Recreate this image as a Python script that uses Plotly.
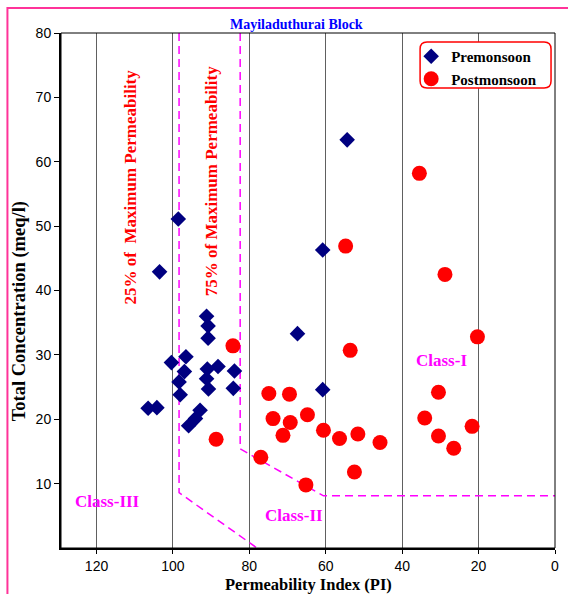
import plotly.graph_objects as go

# ---------------- data ----------------
pre_pi = [54.4, 98.6, 103.5, 60.8, 91.2, 90.8, 90.8, 67.4, 100.4, 96.6, 97.0, 91.0,
          88.2, 83.9, 98.4, 91.2, 98.1, 90.7, 84.2, 60.8, 106.5, 104.2, 92.9, 94.1, 95.9]
pre_tc = [63.4, 51.1, 42.9, 46.3, 36.0, 34.5, 32.6, 33.3, 28.8, 29.7, 27.4, 27.8,
          28.2, 27.5, 25.8, 26.3, 23.8, 24.7, 24.8, 24.6, 21.7, 21.8, 21.4, 20.1, 19.0]

post_pi = [35.5, 54.8, 28.8, 20.3, 53.6, 84.3, 30.5, 74.9, 69.5, 64.8, 73.8, 69.3, 34.1,
           21.7, 71.2, 60.6, 56.4, 51.6, 45.8, 30.5, 26.5, 88.7, 77.0, 52.5, 65.2]
post_tc = [58.2, 46.9, 42.5, 32.8, 30.7, 31.4, 24.2, 24.0, 23.9, 20.7, 20.1, 19.5, 20.2,
           18.9, 17.5, 18.3, 17.0, 17.7, 16.4, 17.4, 15.5, 16.9, 14.1, 11.8, 9.8]

# class boundary lines (Doneen diagram)
bound25_pi = [98.4, 98.4, 78.0]
bound25_tc = [80, 8.6, 0]
bound75_pi = [82.4, 82.4, 60.6, 0]
bound75_tc = [80, 15.4, 8.1, 8.1]

x_ticks = [0, 20, 40, 60, 80, 100, 120]
y_ticks = [10, 20, 30, 40, 50, 60, 70, 80]

SERIF = "Liberation Serif, Times New Roman, serif"
SANS = "Liberation Sans, Arial, sans-serif"
MAG = "#FF00FF"

fig = go.Figure()
for bx, by in [(bound25_pi, bound25_tc), (bound75_pi, bound75_tc)]:
    fig.add_trace(go.Scatter(x=bx, y=by, mode="lines", showlegend=False, hoverinfo="skip",
                             line=dict(color=MAG, width=1.5, dash="8px,5px")))

fig.add_trace(go.Scatter(x=pre_pi, y=pre_tc, mode="markers", name="<b>Premonsoon</b>",
                         marker=dict(symbol="diamond", size=12, color="#000080")))
fig.add_trace(go.Scatter(x=post_pi, y=post_tc, mode="markers", name="<b>Postmonsoon</b>",
                         marker=dict(symbol="circle", size=15, color="#FF0000")))

L, R, T, B = 61, 9, 33, 46
W, H = 568, 594
pw, ph = W - L - R, H - T - B


def px(xp):
    return (xp - L) / pw


def py(yp):
    return (H - B - yp) / ph


fig.update_layout(
    width=W, height=H,
    margin=dict(l=L, r=R, t=T, b=B),
    plot_bgcolor="white", paper_bgcolor="white",
    legend=dict(x=px(414), y=py(40), xanchor="left", yanchor="top",
                bgcolor="rgba(0,0,0,0)", borderwidth=0,
                font=dict(family=SERIF, size=15, color="black"),
                tracegroupgap=0),
)

fig.update_xaxes(range=[129.3, 0], tickvals=x_ticks, showgrid=True, gridcolor="#606060",
                 gridwidth=1, zeroline=False, showline=True, linecolor="black", linewidth=2,
                 ticks="outside", ticklen=4, tickcolor="black", ticklabelstandoff=0,
                 tickfont=dict(family=SANS, size=14, color="black"))
fig.update_yaxes(range=[0, 80], tickvals=y_ticks, showgrid=False, zeroline=False,
                 showline=True, linecolor="black", linewidth=2,
                 ticks="outside", ticklen=5, tickcolor="black",
                 tickfont=dict(family=SANS, size=14, color="black"))

# plot box top/right
fig.add_shape(type="rect", xref="paper", yref="paper", x0=0, y0=0, x1=1, y1=1,
              line=dict(color="black", width=1), layer="above")
# outer pink frame
fig.add_shape(type="rect", xref="paper", yref="paper", x0=px(7), y0=py(610), x1=px(590),
              y1=py(8), line=dict(color="#FF3399", width=2), layer="above")
# rounded legend box
x0, x1, y0, y1 = px(423), px(555), py(88), py(42)
rx, ry = 7 / pw, 7 / ph
path = (f"M {x0+rx},{y1} L {x1-rx},{y1} Q {x1},{y1} {x1},{y1-ry} L {x1},{y0+ry} "
        f"Q {x1},{y0} {x1-rx},{y0} L {x0+rx},{y0} Q {x0},{y0} {x0},{y0+ry} "
        f"L {x0},{y1-ry} Q {x0},{y1} {x0+rx},{y1} Z")
fig.add_shape(type="path", xref="paper", yref="paper", path=path,
              line=dict(color="#FF0000", width=1.5), fillcolor="white", layer="above")

ann = [
    dict(text="<b>Mayiladuthurai Block</b>", x=px(298), y=py(25), xref="paper", yref="paper",
         font=dict(family=SERIF, size=14, color="#0000FF")),
    dict(text="<b>Permeability Index (PI)</b>", x=px(311), y=py(584), xref="paper", yref="paper",
         font=dict(family=SERIF, size=16.5, color="black")),
    dict(text="<b>Total Concentration (meq/l)</b>", x=px(19), y=py(311), xref="paper", yref="paper",
         textangle=-90, font=dict(family=SERIF, size=18.5, color="black")),
    dict(text="<b>25% of  Maximum Permeability</b>", x=111.1, y=56.1, xref="x", yref="y",
         textangle=-90, font=dict(family=SERIF, size=17, color="#FF0000")),
    dict(text="<b>75% of Maximum Permeability</b>", x=89.9, y=56.9, xref="x", yref="y",
         textangle=-90, font=dict(family=SERIF, size=17, color="#FF0000")),
    dict(text="<b>Class-I</b>", x=29.8, y=29.2, xref="x", yref="y",
         font=dict(family=SERIF, size=17, color=MAG)),
    dict(text="<b>Class-II</b>", x=68.2, y=5.1, xref="x", yref="y",
         font=dict(family=SERIF, size=17, color=MAG)),
    dict(text="<b>Class-III</b>", x=117.0, y=7.3, xref="x", yref="y",
         font=dict(family=SERIF, size=17, color=MAG)),
]
for a in ann:
    fig.add_annotation(showarrow=False, xanchor="center", yanchor="middle", **a)

fig.write_html("out.html", config={"displayModeBar": False},
               post_script="document.body.style.margin='0';")
